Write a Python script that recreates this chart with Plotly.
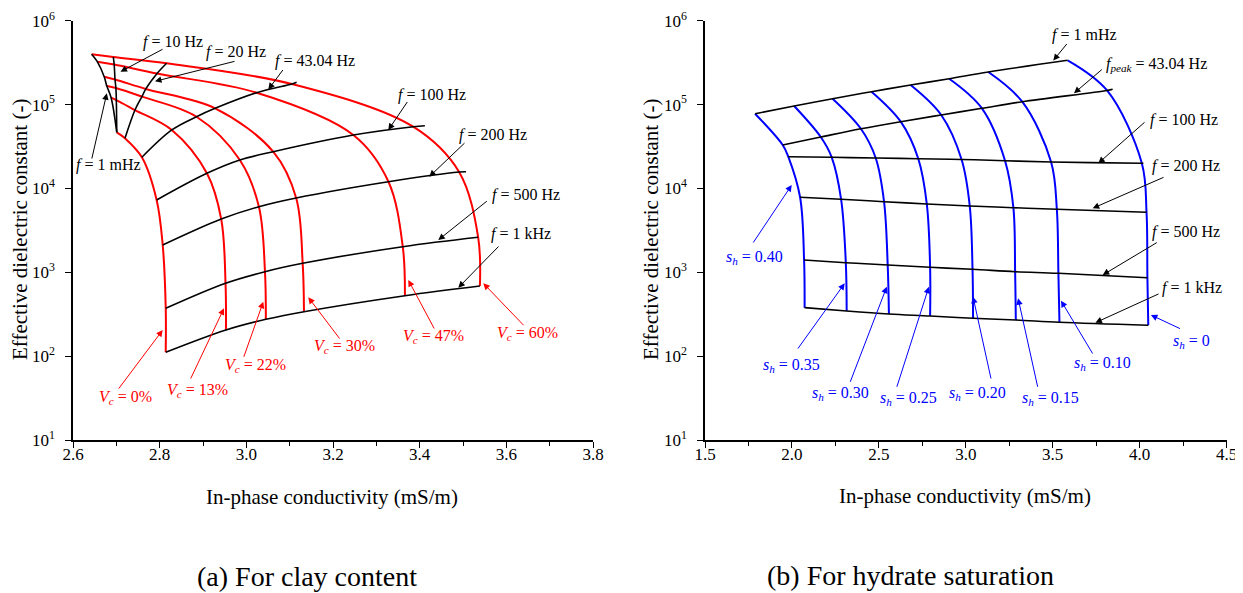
import plotly.graph_objects as go

W, H = 1243, 593          # browser window
OX, OY = 8, 8             # default page margin of the html body
WD, HD = W - OX, H - OY   # figure size

# ---------------- Panel (a): clay content ----------------
freq_a = ["1 mHz", "10 Hz", "20 Hz", "43.04 Hz", "100 Hz", "200 Hz", "500 Hz", "1 kHz"]
vc_levels = ["0%", "13%", "22%", "30%", "47%", "60%"]
# in-phase conductivity (mS/m): rows = Vc, columns = frequency
sigma_a = [
    [2.701, 2.701, 2.720, 2.759, 2.793, 2.807, 2.814, 2.814],
    [2.688, 2.700, 2.743, 2.828, 2.909, 2.942, 2.952, 2.953],
    [2.678, 2.699, 2.759, 2.885, 2.985, 3.029, 3.043, 3.045],
    [2.672, 2.697, 2.768, 2.928, 3.062, 3.115, 3.130, 3.133],
    [2.656, 2.695, 2.794, 3.024, 3.247, 3.328, 3.361, 3.366],
    [2.643, 2.693, 2.816, 3.105, 3.385, 3.491, 3.535, 3.539],
]
# effective dielectric constant
eps_a = [
    [46670, 46670, 39630, 23500, 7278, 2113, 371.5, 111.2],
    [120800, 113200, 86100, 49770, 15140, 4315, 739.6, 205.1],
    [166300, 157400, 124200, 71610, 21830, 6053, 1016, 274.8],
    [214800, 199100, 153500, 90160, 27420, 7691, 1279, 338.8],
    [324300, 300600, 234400, 138400, 43350, 12020, 2018, 526.0],
    [397200, 369000, 310500, 175800, 54450, 15700, 2612, 685.5],
]
# end points of iso-frequency lines that run past the Vc = 60 % curve
ext_a_freq = ["43.04 Hz", "100 Hz", "200 Hz"]
ext_a_sigma = [3.116, 3.412, 3.507]
ext_a_eps = [184100, 55980, 15810]

# ---------------- Panel (b): hydrate saturation ----------------
freq_b = ["1 mHz", "43.04 Hz", "100 Hz", "200 Hz", "500 Hz", "1 kHz"]
sh_levels = ["0.40", "0.35", "0.30", "0.25", "0.20", "0.15", "0.10", "0"]
sigma_b = [
    [1.788, 1.947, 1.979, 2.047, 2.070, 2.073],
    [2.013, 2.166, 2.229, 2.283, 2.310, 2.315],
    [2.234, 2.397, 2.482, 2.530, 2.551, 2.558],
    [2.458, 2.626, 2.727, 2.776, 2.795, 2.795],
    [2.683, 2.859, 2.976, 3.023, 3.039, 3.042],
    [2.905, 3.093, 3.226, 3.274, 3.284, 3.288],
    [3.130, 3.325, 3.491, 3.524, 3.533, 3.539],
    [3.586, 3.813, 4.013, 4.040, 4.045, 4.050],
]
eps_b = [
    [77800, 32960, 23890, 7838, 1400, 378.4],
    [96100, 41030, 23500, 7417, 1301, 345.1],
    [117400, 51400, 23050, 6947, 1222, 318.4],
    [142300, 62500, 22610, 6518, 1146, 301.1],
    [171100, 75100, 22130, 6170, 1086, 282.5],
    [203300, 90200, 21410, 5890, 1016, 269.8],
    [244500, 108100, 20660, 5637, 972.3, 253.3],
    [337200, 147200, 19940, 5190, 861.0, 233.2],
]
ext_b_freq = ["43.04 Hz", "100 Hz"]
ext_b_sigma = [3.845, 4.022]
ext_b_eps = [152000, 19940]

x_ticks_a = [2.6, 2.8, 3.0, 3.2, 3.4, 3.6, 3.8]
x_ticks_b = [1.5, 2.0, 2.5, 3.0, 3.5, 4.0, 4.5]
y_ticks = [10, 100, 1000, 1e4, 1e5, 1e6]
y_ticktext = ["10<sup>1</sup>", "10<sup>2</sup>", "10<sup>3</sup>", "10<sup>4</sup>",
              "10<sup>5</sup>", "10<sup>6</sup>"]

FONT = "Liberation Serif"
RED, BLUE, BLACK = "#ff0000", "#0000ff", "#000000"

fig = go.Figure()


def dedup(xs, ys):
    ox, oy = [], []
    for x, y in zip(xs, ys):
        if ox and x == ox[-1] and y == oy[-1]:
            continue
        ox.append(x)
        oy.append(y)
    return ox, oy


def add_line(xs, ys, color, width, xa, ya):
    xs, ys = dedup(xs, ys)
    fig.add_trace(go.Scatter(x=xs, y=ys, mode="lines",
                             line=dict(color=color, width=width, shape="spline", smoothing=1.0),
                             xaxis=xa, yaxis=ya, hoverinfo="skip", showlegend=False))


# panel (a): iso-clay curves (red) and iso-frequency curves (black)
for i in range(len(vc_levels)):
    add_line(sigma_a[i], eps_a[i], RED, 2, "x", "y")
for j, f in enumerate(freq_a):
    xs = [row[j] for row in sigma_a]
    ys = [row[j] for row in eps_a]
    if f in ext_a_freq:
        k = ext_a_freq.index(f)
        xs = xs + [ext_a_sigma[k]]
        ys = ys + [ext_a_eps[k]]
    add_line(xs, ys, BLACK, 1.6, "x", "y")

# panel (b): iso-saturation curves (blue) and iso-frequency curves (black)
for i in range(len(sh_levels)):
    add_line(sigma_b[i], eps_b[i], BLUE, 2, "x2", "y2")
for j, f in enumerate(freq_b):
    xs = [row[j] for row in sigma_b]
    ys = [row[j] for row in eps_b]
    if f in ext_b_freq:
        k = ext_b_freq.index(f)
        xs = xs + [ext_b_sigma[k]]
        ys = ys + [ext_b_eps[k]]
    add_line(xs, ys, BLACK, 1.6, "x2", "y2")


# ---------------- layout (positions given in page pixels) ----------------
def pxx(v):
    return (v - OX) / WD


def pxy(v):
    return 1 - (v - OY) / HD


axis_common = dict(showline=True, linecolor="black", linewidth=1.5, ticks="outside",
                   ticklen=6, tickwidth=1.3, tickcolor="black", showgrid=False, zeroline=False,
                   automargin=False,
                   tickfont=dict(family=FONT, size=17, color="black"), mirror=False)
xa_extra = dict(ticklabelstandoff=-8)
ya_extra = dict(ticklabelstandoff=7)

fig.update_layout(
    width=WD, height=HD, autosize=False,
    margin=dict(l=0, r=0, t=0, b=0, pad=0),
    font=dict(family=FONT, color="black"),
    paper_bgcolor="white", plot_bgcolor="white",
    showlegend=False, hovermode=False,
    xaxis=dict(axis_common, **xa_extra, domain=[pxx(73), pxx(593)], range=[2.6, 3.8],
               tickvals=x_ticks_a, tickformat=".1f", anchor="y",
               minor=dict(ticks="outside", ticklen=4, tickwidth=1.2, tickcolor="black",
                          tickvals=[2.7, 2.9, 3.1, 3.3, 3.5, 3.7])),
    yaxis=dict(axis_common, **ya_extra, domain=[pxy(440), pxy(20.7)], type="log", range=[1, 6],
               tickvals=y_ticks, ticktext=y_ticktext, anchor="x"),
    xaxis2=dict(axis_common, **xa_extra, domain=[pxx(705), pxx(1226.5)], range=[1.5, 4.5],
                tickvals=x_ticks_b, tickformat=".1f", anchor="y2",
                minor=dict(ticks="outside", ticklen=4, tickwidth=1.2, tickcolor="black",
                           tickvals=[1.75, 2.25, 2.75, 3.25, 3.75, 4.25])),
    yaxis2=dict(axis_common, **ya_extra, domain=[pxy(440), pxy(20.7)], type="log", range=[1, 6],
                tickvals=y_ticks, ticktext=y_ticktext, anchor="x2"),
)

ann = []


def text(cx, cy, s, size=16, color="black", angle=0):
    ann.append(dict(x=pxx(cx), y=pxy(cy), xref="paper", yref="paper", text=s,
                    showarrow=False, xanchor="center", yanchor="middle", textangle=angle,
                    font=dict(family=FONT, size=size, color=color)))


def arrow(head, tail, color="black"):
    ann.append(dict(x=pxx(head[0]), y=pxy(head[1]), xref="paper", yref="paper",
                    ax=tail[0] - head[0], ay=tail[1] - head[1], axref="pixel", ayref="pixel",
                    text="", showarrow=True, arrowhead=2, arrowsize=1.3, arrowwidth=1,
                    arrowcolor=color, standoff=0, startstandoff=0))


F = "<i>f</i> = "
# panel (a) frequency labels
for cx, cy, s, head, tail in [
    (173, 42, F + "10 Hz", (120.5, 71.7), (164, 48.5)),
    (236, 52.5, F + "20 Hz", (155, 81.3), (236, 61)),
    (315, 60.5, F + "43.04 Hz", (268.3, 89.5), (284, 68.5)),
    (108, 165.5, F + "1 mHz", (106.8, 93.3), (91.5, 160)),
    (431.7, 95, F + "100 Hz", (388.3, 130), (408.3, 100.5)),
    (492.5, 135, F + "200 Hz", (429.3, 176.7), (466, 141.7)),
    (525.8, 195, F + "500 Hz", (438.3, 240), (488.3, 200)),
    (520.8, 234, F + "1 kHz", (458.3, 287.7), (500, 245)),
]:
    text(cx, cy, s)
    arrow(head, tail)

VC = "<i>V</i><sub><i>c</i></sub> = "
for cx, cy, lab, head, tail in [
    (125.8, 397, "0%", (162.7, 330), (117.7, 390)),
    (197.5, 390, "13%", (224, 308.3), (190, 380)),
    (255.8, 365.7, "22%", (263.3, 301.7), (243.3, 358.3)),
    (344.5, 346.7, "30%", (308.3, 297.3), (340.7, 340)),
    (433.3, 336, "47%", (408.3, 280), (435, 330)),
    (527.5, 333.3, "60%", (483.3, 283.3), (525, 326.7)),
]:
    text(cx, cy, VC + lab, color=RED)
    arrow(head, tail, RED)

# panel (b) frequency labels
for cx, cy, s, head, tail in [
    (1084, 35, F + "1 mHz", (1053.3, 60.5), (1068, 42.5)),
    (1156.7, 65, "<i>f</i><sub><i>peak</i></sub> = 43.04 Hz", (1074, 93.3), (1103.3, 68.3)),
    (1184.3, 120, F + "100 Hz", (1098.3, 163.3), (1146, 121)),
    (1186, 166, F + "200 Hz", (1092.7, 208.3), (1165, 176.7)),
    (1186, 231.7, F + "500 Hz", (1102.7, 275), (1158.3, 241.7)),
    (1191.7, 288.3, F + "1 kHz", (1095.4, 322.7), (1160, 293.3)),
]:
    text(cx, cy, s)
    arrow(head, tail)

SH = "<i>s</i><sub><i>h</i></sub> = "
for cx, cy, lab, head, tail in [
    (754.7, 257.3, "0.40", (791.7, 185), (752.3, 244)),
    (791, 365, "0.35", (844.7, 283.3), (796.9, 350)),
    (840.5, 393.3, "0.30", (886.8, 286.7), (849.7, 383.3)),
    (908, 398.3, "0.25", (928.9, 286.7), (896.4, 388.3)),
    (977.4, 393.3, "0.20", (973, 296.7), (991.3, 380)),
    (1050.8, 398.3, "0.15", (1018.1, 298.3), (1038, 388.3)),
    (1102.7, 363.3, "0.10", (1061, 300.7), (1093.5, 355)),
    (1191.7, 341.7, "0", (1150.9, 315), (1181.5, 329.3)),
]:
    text(cx, cy, SH + lab, color=BLUE)
    arrow(head, tail, BLUE)

# axis titles and captions
text(20, 230, "Effective dielectric constant (-)", size=21, angle=-90)
text(651, 230, "Effective dielectric constant (-)", size=21, angle=-90)
text(332, 496.5, "In-phase conductivity (mS/m)", size=21)
text(965, 496, "In-phase conductivity (mS/m)", size=21)
text(306.5, 576, "(a) For clay content", size=28)
text(911, 575, "(b) For hydrate saturation", size=28)

fig.update_layout(annotations=ann)

fig.write_html("out.html")
